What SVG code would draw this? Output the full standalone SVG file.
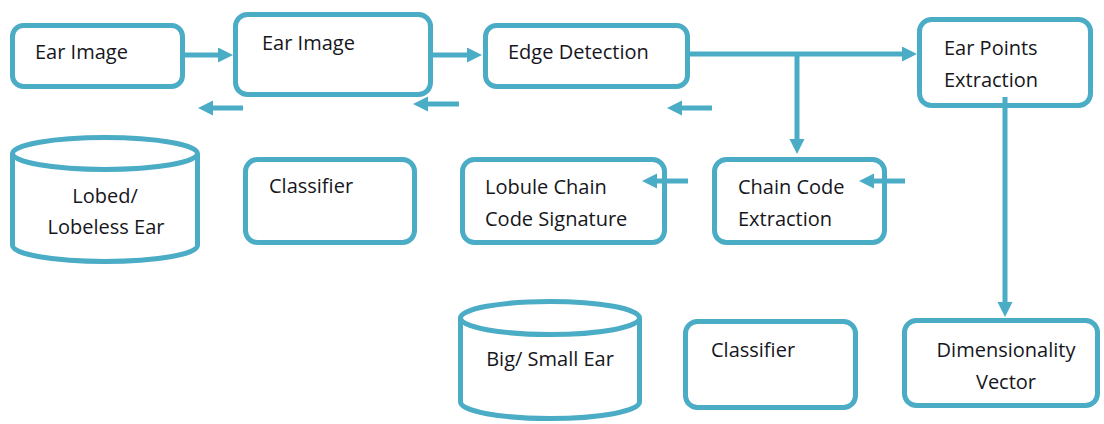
<svg xmlns="http://www.w3.org/2000/svg" width="1104" height="424" viewBox="0 0 1104 424">
<defs>
<style>
.box{fill:#fff;stroke:#4BACC6;stroke-width:5}
.cyl{fill:#fff;stroke:#4BACC6;stroke-width:5}
.c{fill:none;stroke:#4BACC6;stroke-width:5}
text{font-family:"Open Sans","Liberation Sans",sans-serif;font-size:20px;fill:#161620}
.m{text-anchor:middle}
</style>
<marker id="ah" markerUnits="userSpaceOnUse" markerWidth="16" markerHeight="16" refX="4" refY="7.5" orient="auto">
<path d="M0,0 L15,7.5 L0,15 z" fill="#4BACC6"/>
</marker>
</defs>
<rect width="1104" height="424" fill="#fff"/>
<g id="ear-image-1">
<rect class="box" x="12.5" y="25.5" width="170" height="61" rx="11"/>
<text x="35" y="59">Ear Image</text>
</g>
<g id="ear-image-2">
<rect class="box" x="235.5" y="14.5" width="195" height="80" rx="12"/>
<text x="262" y="50">Ear Image</text>
</g>
<g id="edge-detection">
<rect class="box" x="485.5" y="25.5" width="202" height="61" rx="11"/>
<text x="508" y="59">Edge Detection</text>
</g>
<g id="ear-points">
<rect class="box" x="919.5" y="19.5" width="171" height="86" rx="12"/>
<text x="944" y="55">Ear Points</text>
<text x="944" y="87">Extraction</text>
</g>
<g id="lobed-db">
<path class="cyl" d="M12.5,153.5 L12.5,245.5 A92.5,16 0 0 0 197.5,245.5 L197.5,153.5"/>
<ellipse class="cyl" cx="105" cy="153.5" rx="92.5" ry="16"/>
<text class="m" x="105" y="203">Lobed/</text>
<text class="m" x="106" y="234">Lobeless Ear</text>
</g>
<g id="classifier-1">
<rect class="box" x="245.5" y="159.5" width="169" height="83" rx="12"/>
<text x="269" y="193">Classifier</text>
</g>
<g id="lobule">
<rect class="box" x="462.5" y="159.5" width="202" height="83" rx="12"/>
<text x="485" y="194">Lobule Chain</text>
<text x="485" y="226">Code Signature</text>
</g>
<g id="chain-code">
<rect class="box" x="714.5" y="159.5" width="170" height="83" rx="12"/>
<text x="738" y="194">Chain Code</text>
<text x="738" y="226">Extraction</text>
</g>
<g id="big-small-db">
<path class="cyl" d="M460.5,318 L460.5,402 A89.5,16.5 0 0 0 639.5,402 L639.5,318"/>
<ellipse class="cyl" cx="550" cy="318" rx="89.5" ry="16.5"/>
<text class="m" x="550" y="366">Big/ Small Ear</text>
</g>
<g id="classifier-2">
<rect class="box" x="685.5" y="321.5" width="170" height="86" rx="12"/>
<text x="711" y="357">Classifier</text>
</g>
<g id="dimensionality">
<rect class="box" x="904.5" y="320.5" width="193" height="85" rx="12"/>
<text class="m" x="1006" y="357">Dimensionality</text>
<text class="m" x="1006" y="389">Vector</text>
</g>
<g id="connectors">
<line class="c" x1="185" y1="55" x2="222" y2="55" marker-end="url(#ah)"/>
<line class="c" x1="433" y1="55" x2="471" y2="55" marker-end="url(#ah)"/>
<line class="c" x1="690" y1="54" x2="906" y2="54" marker-end="url(#ah)"/>
<line class="c" x1="797" y1="54" x2="797" y2="143" marker-end="url(#ah)"/>
<line class="c" x1="1005" y1="97" x2="1005" y2="306" marker-end="url(#ah)"/>
<line class="c" x1="243" y1="108" x2="209" y2="108" marker-end="url(#ah)"/>
<line class="c" x1="459" y1="104" x2="424" y2="104" marker-end="url(#ah)"/>
<line class="c" x1="712" y1="108" x2="678" y2="108" marker-end="url(#ah)"/>
<line class="c" x1="688" y1="181" x2="653" y2="181" marker-end="url(#ah)"/>
<line class="c" x1="905" y1="181" x2="870" y2="181" marker-end="url(#ah)"/>
</g>
</svg>
